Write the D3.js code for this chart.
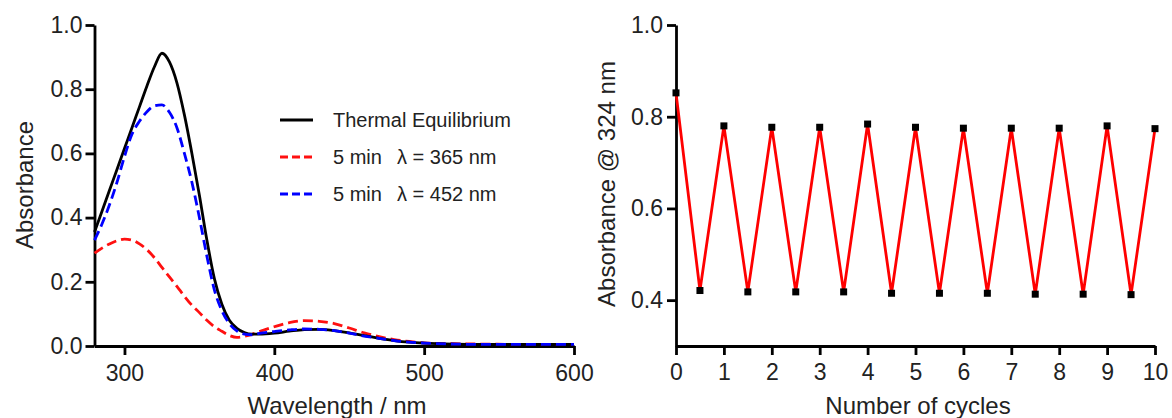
<!DOCTYPE html>
<html>
<head>
<meta charset="utf-8">
<script src="https://cdn.jsdelivr.net/npm/d3@7"></script>
<style>
  html, body { margin: 0; padding: 0; background: #fff; }
  svg { display: block; }
  text { font-family: "Liberation Sans", Arial, Helvetica, sans-serif; fill: #222; }
</style>
</head>
<body>
<svg id="chart" width="1172" height="418"></svg>
<script>
// ---------- Data: left panel (UV-Vis spectra) ----------
const wavelengths = [280,285,290,295,300,305,310,315,320,325,330,335,340,345,350,355,360,365,370,375,380,385,390,400,410,420,430,440,450,460,470,480,490,500,520,540,560,580,600];
const thermalEq = [0.355,0.420,0.485,0.550,0.615,0.680,0.745,0.810,0.870,0.912,0.885,0.820,0.720,0.600,0.470,0.330,0.210,0.130,0.080,0.055,0.042,0.037,0.037,0.040,0.046,0.051,0.052,0.048,0.041,0.032,0.024,0.017,0.012,0.009,0.006,0.005,0.005,0.005,0.005];
const uv365 = [0.289,0.305,0.318,0.328,0.333,0.330,0.318,0.300,0.275,0.245,0.215,0.186,0.155,0.127,0.104,0.080,0.060,0.046,0.033,0.027,0.030,0.036,0.045,0.060,0.073,0.079,0.077,0.070,0.056,0.041,0.029,0.020,0.014,0.010,0.007,0.006,0.005,0.005,0.005];
const vis452 = [0.330,0.380,0.440,0.510,0.590,0.660,0.700,0.730,0.748,0.751,0.728,0.680,0.600,0.510,0.400,0.280,0.175,0.110,0.070,0.047,0.037,0.035,0.039,0.045,0.050,0.053,0.052,0.048,0.040,0.031,0.024,0.017,0.012,0.009,0.006,0.005,0.005,0.005,0.005];
const seriesNames = ["Thermal Equilibrium", "5 min", "5 min"];
const seriesLambda = ["", "\u03bb = 365 nm", "\u03bb = 452 nm"];
const leftXTicks = [300, 400, 500, 600];
const leftYTicks = [0.0, 0.2, 0.4, 0.6, 0.8, 1.0];

// ---------- Data: right panel (switching cycles) ----------
const cycles = [0,0.5,1,1.5,2,2.5,3,3.5,4,4.5,5,5.5,6,6.5,7,7.5,8,8.5,9,9.5,10];
const absorb324 = [0.852,0.421,0.780,0.418,0.777,0.418,0.777,0.418,0.784,0.415,0.777,0.415,0.775,0.415,0.775,0.413,0.775,0.413,0.780,0.412,0.774];
const rightXTicks = [0,1,2,3,4,5,6,7,8,9,10];
const rightYTicks = [0.4, 0.6, 0.8, 1.0];

const svg = d3.select("#chart");
const AXW = 2.8, TICK = 9, TICKFONT = 23, TITLEFONT = 24;

function styleAxis(g) {
  g.select(".domain").attr("stroke", "#000").attr("stroke-width", AXW);
  g.selectAll(".tick line").attr("stroke", "#000").attr("stroke-width", AXW);
  g.selectAll(".tick text").attr("font-size", TICKFONT).attr("fill", "#222")
    .attr("font-family", "Liberation Sans, Arial, sans-serif");
}

// ---------- Left panel ----------
const xL = d3.scaleLinear().domain([280, 600]).range([94.5, 574]);
const yL = d3.scaleLinear().domain([0, 1]).range([346, 25]);

const gxL = svg.append("g").attr("transform", "translate(0,346)")
  .call(d3.axisBottom(xL).tickValues(leftXTicks).tickSize(TICK).tickSizeOuter(0).tickPadding(10).tickFormat(d3.format("d")));
styleAxis(gxL);
const gyL = svg.append("g").attr("transform", "translate(94.5,0)")
  .call(d3.axisLeft(yL).tickValues(leftYTicks).tickSize(TICK).tickSizeOuter(0).tickPadding(3).tickFormat(d3.format(".1f")));
styleAxis(gyL);

const spectra = [
  {vals: thermalEq, color: "#000000", dash: null},
  {vals: uv365, color: "#ff1010", dash: "10,5"},
  {vals: vis452, color: "#0000ff", dash: "10,5"}
];
const lineL = d3.line().x(d => xL(d[0])).y(d => yL(d[1])).curve(d3.curveMonotoneX);
// drawing order: red, black, blue (blue on top)
[1, 0, 2].forEach(i => {
  const s = spectra[i];
  svg.append("path")
    .datum(wavelengths.map((w, k) => [w, s.vals[k]]))
    .attr("d", lineL)
    .attr("fill", "none")
    .attr("stroke", s.color)
    .attr("stroke-width", 2.8)
    .attr("stroke-dasharray", s.dash);
});

// Legend
const legY = [120, 157, 194];
spectra.forEach((s, i) => {
  svg.append("line")
    .attr("x1", 280).attr("x2", 313).attr("y1", legY[i]).attr("y2", legY[i])
    .attr("stroke", s.color).attr("stroke-width", 2.8)
    .attr("stroke-dasharray", s.dash ? "8,4" : null);
  const t = svg.append("text").attr("x", 333).attr("y", legY[i]).attr("dy", "0.35em")
    .attr("font-size", 20);
  t.append("tspan").text(seriesNames[i]);
  if (seriesLambda[i]) t.append("tspan").attr("x", 397).text(seriesLambda[i]);
});

svg.append("text").attr("x", 337).attr("y", 414).attr("text-anchor", "middle")
  .attr("font-size", TITLEFONT).text("Wavelength / nm");
svg.append("text").attr("transform", "translate(33,185) rotate(-90)").attr("text-anchor", "middle")
  .attr("font-size", TITLEFONT).text("Absorbance");

// ---------- Right panel ----------
const xR = d3.scaleLinear().domain([0, 10]).range([676, 1155]);
const yR = d3.scaleLinear().domain([0.3, 1.0]).range([346, 25]);

const gxR = svg.append("g").attr("transform", "translate(0,346)")
  .call(d3.axisBottom(xR).tickValues(rightXTicks).tickSize(TICK).tickSizeOuter(0).tickPadding(9).tickFormat(d3.format("d")));
styleAxis(gxR);
const gyR = svg.append("g").attr("transform", "translate(676,0)")
  .call(d3.axisLeft(yR).tickValues(rightYTicks).tickSize(TICK).tickSizeOuter(0).tickPadding(4).tickFormat(d3.format(".1f")));
styleAxis(gyR);

const lineR = d3.line().x(d => xR(d[0])).y(d => yR(d[1]));
const ptsR = cycles.map((c, k) => [c, absorb324[k]]);
svg.append("path").datum(ptsR).attr("d", lineR)
  .attr("fill", "none").attr("stroke", "#ff0000").attr("stroke-width", 2.8);
svg.selectAll("rect.mk").data(ptsR).enter().append("rect").attr("class", "mk")
  .attr("x", d => xR(d[0]) - 3.5).attr("y", d => yR(d[1]) - 3.5)
  .attr("width", 7).attr("height", 7).attr("fill", "#000");

svg.append("text").attr("x", 918).attr("y", 414).attr("text-anchor", "middle")
  .attr("font-size", TITLEFONT).text("Number of cycles");
svg.append("text").attr("transform", "translate(615,184) rotate(-90)").attr("text-anchor", "middle")
  .attr("font-size", TITLEFONT).text("Absorbance @ 324 nm");
</script>
</body>
</html>
